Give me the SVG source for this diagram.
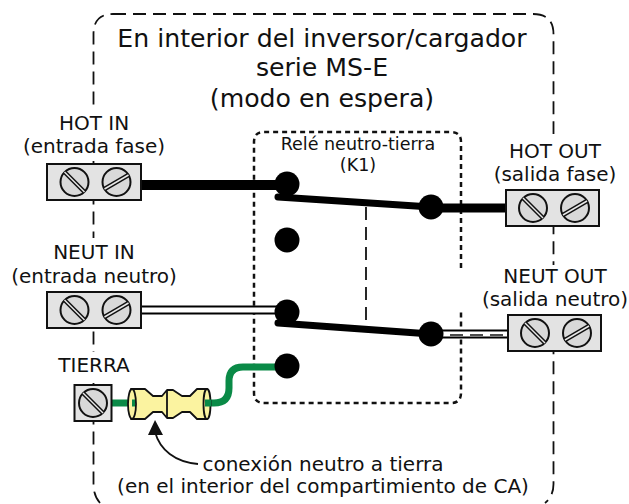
<svg xmlns="http://www.w3.org/2000/svg" width="629" height="504" viewBox="0 0 629 504">
<style>
text{font-family:"DejaVu Sans",sans-serif;fill:#111;text-anchor:middle}
.t{font-size:25.200px}.l{font-size:20px}.s{font-size:17.500px}
.b{fill:#e3e3e3;stroke:#111;stroke-width:2}
.c{fill:#d9d9d9;stroke:#111;stroke-width:2}
.sl{stroke:#111;stroke-width:4.500;fill:none}.sw{stroke:#e8e8e8;stroke-width:1.500;fill:none}
.d{fill:#000}
.m{fill:#fff}
</style>
<defs>
<g id="screwA"><circle class="c" r="14"/><path class="sl" d="M-10-10L10 10"/><path class="sw" d="M-10-10L10 10"/></g>
<g id="screwB"><circle class="c" r="14"/><path class="sl" d="M-12 7L12-7"/><path class="sw" d="M-12 7L12-7"/></g>
</defs>
<g id="enclosure"><path d="M113 14H533Q553.500 14 553.500 34V484Q553.500 496 545 503M100 503Q93.500 496 93.500 484V34Q93.500 14 113 14" fill="none" stroke="#111" stroke-width="1.800" stroke-dasharray="13 7"/>
<rect class="m" x="85" y="106" width="17" height="55"/><rect class="m" x="85" y="238" width="17" height="52"/><rect class="m" x="85" y="352" width="17" height="31"/>
<rect class="m" x="545" y="134" width="17" height="56"/><rect class="m" x="545" y="265" width="17" height="50"/></g>
<g id="relay"><path d="M461 268V142Q461 132 451 132H264Q254 132 254 142V393Q254 403 264 403H451Q461 403 461 393V312" fill="none" stroke="#111" stroke-width="2.500" stroke-dasharray="5 4"/><text class="s" x="358" y="150">Relé neutro-tierra</text><text class="s" x="358" y="171">(K1)</text></g>
<g id="connectors">
<path d="M366 207V325" fill="none" stroke="#111" stroke-width="1.800" stroke-dasharray="13 7"/>
<path d="M141 185H287" stroke="#000" stroke-width="10" fill="none"/>
<path d="M431 208H506" stroke="#000" stroke-width="9" fill="none"/>
<path d="M141 310H287" stroke="#000" stroke-width="9" fill="none"/><path d="M141 310H287" stroke="#fff" stroke-width="5" fill="none"/>
<path d="M431 334H507" stroke="#000" stroke-width="9" fill="none"/><path d="M431 334H507" stroke="#fff" stroke-width="5" fill="none"/>
<path d="M450 335H507" stroke="#111" stroke-width="1.500" stroke-dasharray="13 7" fill="none"/>
<path d="M278 197L431 207M278 323L431 334" stroke="#000" stroke-width="7" stroke-linecap="round" fill="none"/>
<path d="M111 403H135M205 403H214Q229 403 229 388V381Q229 367 243 367H287" stroke="#0a8a47" stroke-width="7" fill="none"/>
<path d="M198 464C175 462 160 450 155 432" fill="none" stroke="#111" stroke-width="1.800"/>
<path d="M155 420L163 435L148 435Z" fill="#111"/>
</g>
<g id="contacts"><circle class="d" cx="287" cy="184" r="12.500"/><circle class="d" cx="287" cy="240" r="12.500"/><circle class="d" cx="287" cy="312" r="12.500"/><circle class="d" cx="287" cy="366" r="12.500"/><circle class="d" cx="431" cy="207" r="12.500"/><circle class="d" cx="431" cy="334" r="12.500"/></g>
<g id="fuse"><path d="M131 389H145L153 396H162L167 390H173L182 396H190L197 389H207V419H197L190 412H182L173 418H167L162 412H153L145 419H131Z" fill="#fbf3a0" stroke="#111" stroke-width="1.800" stroke-linejoin="round"/><path d="M167 390V418" stroke="#111" stroke-width="1.800"/><ellipse cx="132" cy="404" rx="4" ry="15" fill="#fbf3a0" stroke="#111" stroke-width="1.800"/><ellipse cx="207" cy="404" rx="3.500" ry="15" fill="#fbf3a0" stroke="#111" stroke-width="1.800"/><path d="M132 403H135M205 403H211" stroke="#0a8a47" stroke-width="7"/></g>
<g id="hot-in"><rect x="47" y="164" width="94" height="36" class="b"/><use href="#screwA" x="74.500" y="182"/><use href="#screwB" x="116.500" y="182"/></g>
<g id="neut-in"><rect x="47" y="292" width="94" height="36" class="b"/><use href="#screwA" x="74.500" y="310"/><use href="#screwB" x="116.500" y="310"/></g>
<g id="tierra"><rect x="74.500" y="385" width="37" height="36" class="b"/><use href="#screwA" x="93" y="403"/></g>
<g id="hot-out"><rect x="506" y="190" width="93" height="36" class="b"/><use href="#screwA" x="533" y="208"/><use href="#screwB" x="575" y="208"/></g>
<g id="neut-out"><rect x="508" y="315" width="93" height="36" class="b"/><use href="#screwA" x="535" y="333"/><use href="#screwB" x="577" y="333"/></g>
<g id="labels">
<text class="t" x="322" y="47">En interior del inversor/cargador</text>
<text class="t" x="322" y="76">serie MS-E</text>
<text class="t" x="322" y="107">(modo en espera)</text>
<text class="l" x="94" y="130">HOT IN</text><text class="l" x="94" y="153">(entrada fase)</text>
<text class="l" x="94" y="259">NEUT IN</text><text class="l" x="94" y="283">(entrada neutro)</text>
<text class="l" x="94" y="372">TIERRA</text>
<text class="l" x="555" y="158">HOT OUT</text><text class="l" x="555" y="181">(salida fase)</text>
<text class="l" x="555" y="283">NEUT OUT</text><text class="l" x="555" y="306">(salida neutro)</text>
<text class="l" x="323" y="471">conexión neutro a tierra</text>
<text class="l" x="323" y="493">(en el interior del compartimiento de CA)</text>
</g>
</svg>
